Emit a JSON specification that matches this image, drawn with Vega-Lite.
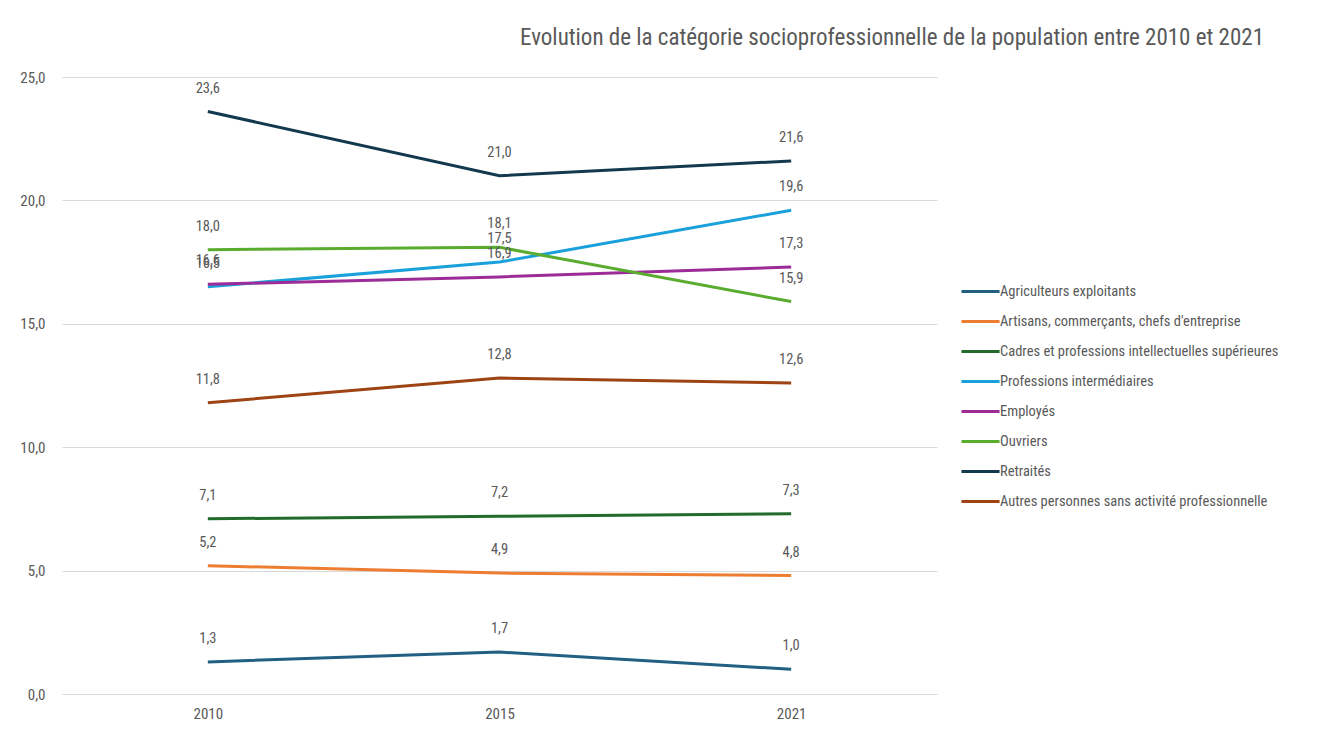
{
  "$schema": "https://vega.github.io/schema/vega-lite/v6.json",
  "width": 875,
  "height": 617,
  "autosize": {"type": "none"},
  "padding": {"left": 62, "top": 77, "right": 399, "bottom": 35},
  "background": "white",
  "title": {
    "text": "Evolution de la catégorie socioprofessionnelle de la population entre 2010 et 2021",
    "anchor": "start",
    "frame": "group",
    "dx": 458,
    "dy": 25,
    "offset": 27,
    "baseline": "alphabetic",
    "fontSize": 23,
    "fontWeight": "normal",
    "color": "#595959",
    "font": "Liberation Sans Narrow, Roboto Condensed, Arial Narrow, sans-serif"
  },
  "config": {
    "locale": {"number": {"decimal": ",", "thousands": " ", "grouping": [3], "currency": ["", " €"]}},
    "view": {"stroke": null},
    "font": "Liberation Sans Narrow, Roboto Condensed, Arial Narrow, sans-serif"
  },
  "data": {
    "values": [
      {"cat": "Agriculteurs exploitants", "annee": "2010", "val": 1.3},
      {"cat": "Agriculteurs exploitants", "annee": "2015", "val": 1.7},
      {"cat": "Agriculteurs exploitants", "annee": "2021", "val": 1.0},
      {"cat": "Artisans, commerçants, chefs d'entreprise", "annee": "2010", "val": 5.2},
      {"cat": "Artisans, commerçants, chefs d'entreprise", "annee": "2015", "val": 4.9},
      {"cat": "Artisans, commerçants, chefs d'entreprise", "annee": "2021", "val": 4.8},
      {"cat": "Cadres et professions intellectuelles supérieures", "annee": "2010", "val": 7.1},
      {"cat": "Cadres et professions intellectuelles supérieures", "annee": "2015", "val": 7.2},
      {"cat": "Cadres et professions intellectuelles supérieures", "annee": "2021", "val": 7.3},
      {"cat": "Professions intermédiaires", "annee": "2010", "val": 16.5},
      {"cat": "Professions intermédiaires", "annee": "2015", "val": 17.5},
      {"cat": "Professions intermédiaires", "annee": "2021", "val": 19.6},
      {"cat": "Employés", "annee": "2010", "val": 16.6},
      {"cat": "Employés", "annee": "2015", "val": 16.9},
      {"cat": "Employés", "annee": "2021", "val": 17.3},
      {"cat": "Ouvriers", "annee": "2010", "val": 18.0},
      {"cat": "Ouvriers", "annee": "2015", "val": 18.1},
      {"cat": "Ouvriers", "annee": "2021", "val": 15.9},
      {"cat": "Retraités", "annee": "2010", "val": 23.6},
      {"cat": "Retraités", "annee": "2015", "val": 21.0},
      {"cat": "Retraités", "annee": "2021", "val": 21.6},
      {"cat": "Autres personnes sans activité professionnelle", "annee": "2010", "val": 11.8},
      {"cat": "Autres personnes sans activité professionnelle", "annee": "2015", "val": 12.8},
      {"cat": "Autres personnes sans activité professionnelle", "annee": "2021", "val": 12.6}
    ]
  },
  "encoding": {
    "x": {
      "field": "annee", "type": "ordinal",
      "scale": {"type": "point", "padding": 0.5},
      "axis": {"title": null, "domain": false, "ticks": false, "labelAngle": 0, "labelPadding": 12, "labelFontSize": 15, "labelColor": "#595959"}
    },
    "y": {
      "field": "val", "type": "quantitative",
      "scale": {"domain": [0, 25], "nice": false, "zero": true},
      "axis": {"title": null, "domain": false, "ticks": false, "values": [0, 5, 10, 15, 20, 25], "format": ",.1f", "labelPadding": 17, "labelFontSize": 15, "labelColor": "#595959", "gridColor": "#d9d9d9", "gridWidth": 1}
    }
  },
  "layer": [
    {
      "mark": {"type": "line", "strokeWidth": 3},
      "encoding": {
        "color": {
          "field": "cat", "type": "nominal",
          "scale": {
            "domain": ["Agriculteurs exploitants", "Artisans, commerçants, chefs d'entreprise", "Cadres et professions intellectuelles supérieures", "Professions intermédiaires", "Employés", "Ouvriers", "Retraités", "Autres personnes sans activité professionnelle"],
            "range": ["#215f83", "#ed7d31", "#236b2c", "#1aa1db", "#9c2c97", "#5aac2f", "#13394f", "#9e4314"]
          },
          "legend": {
            "title": null,
            "orient": "none",
            "legendX": 902,
            "legendY": 198,
            "symbolType": "M-1.27,0H1.27",
            "symbolSize": 900,
            "symbolStrokeWidth": 3,
            "symbolFillColor": "transparent",
            "rowPadding": 7,
            "labelOffset": 3,
            "labelFontSize": 14.5,
            "labelColor": "#595959",
            "labelLimit": 400
          }
        }
      }
    },
    {
      "mark": {"type": "text", "dy": -23, "fontSize": 14.5, "color": "#595959"},
      "encoding": {
        "text": {"field": "val", "type": "quantitative", "format": ",.1f"}
      }
    }
  ]
}
